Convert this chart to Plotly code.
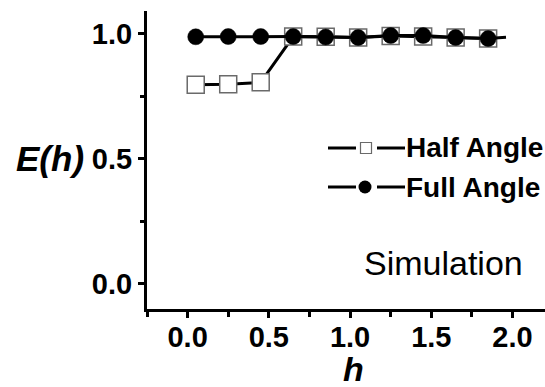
import plotly.graph_objects as go

# ---- data ----
h_vals = [0.05, 0.25, 0.45, 0.65, 0.85, 1.05, 1.25, 1.45, 1.65, 1.85]
half_angle = [0.795, 0.797, 0.805, 0.988, 0.987, 0.984, 0.990, 0.988, 0.984, 0.980]
full_angle = [0.987, 0.988, 0.988, 0.988, 0.986, 0.984, 0.992, 0.992, 0.984, 0.980]
full_line_end_h = 1.96
full_line_end_val = 0.985

x_ticks = [0.0, 0.5, 1.0, 1.5, 2.0]
x_ticklabels = ["0.0", "0.5", "1.0", "1.5", "2.0"]
y_ticks = [0.0, 0.5, 1.0]
y_ticklabels = ["0.0", "0.5", "1.0"]

FONT = "Liberation Sans, Arial, sans-serif"

fig = go.Figure()

fig.add_trace(go.Scatter(
    x=h_vals, y=half_angle, mode="lines+markers", name="Half Angle",
    line=dict(color="black", width=3),
    marker=dict(symbol="square", size=17, color="white", opacity=1,
                line=dict(color="#6a6a6a", width=1.5)),
    showlegend=False,
))

fig.add_trace(go.Scatter(
    x=h_vals + [full_line_end_h], y=full_angle + [full_line_end_val],
    mode="lines", line=dict(color="black", width=3),
    showlegend=False, hoverinfo="skip",
))
fig.add_trace(go.Scatter(
    x=h_vals, y=full_angle, mode="markers", name="Full Angle",
    marker=dict(symbol="circle", size=16, color="#000000", opacity=1,
                line=dict(color="#000000", width=0.5)),
    showlegend=False,
))

L, R, T, B, W, H = 147, 0, 11, 78, 545, 387
PW = W - L - R
PH = H - T - B


def px_x(px):
    return (px - L) / PW


def px_y(py):
    return (H - B - py) / PH


shapes = []
annotations = []

# manual legend
legend_rows = [("Half Angle", 148, "square"), ("Full Angle", 187, "circle")]
for label, ypx, sym in legend_rows:
    yy = px_y(ypx)
    for x0, x1 in [(328, 356), (377, 405)]:
        shapes.append(dict(type="line", xref="paper", yref="paper",
                           x0=px_x(x0), x1=px_x(x1), y0=yy, y1=yy,
                           line=dict(color="black", width=3)))
    if sym == "square":
        shapes.append(dict(type="rect", xref="paper", yref="paper",
                           xsizemode="pixel", ysizemode="pixel",
                           xanchor=px_x(366), yanchor=yy,
                           x0=-5.5, x1=5.5, y0=-5.5, y1=5.5,
                           fillcolor="white", line=dict(color="#6a6a6a", width=1.2)))
    else:
        shapes.append(dict(type="circle", xref="paper", yref="paper",
                           xsizemode="pixel", ysizemode="pixel",
                           xanchor=px_x(365), yanchor=yy,
                           x0=-6.5, x1=6.5, y0=-6.5, y1=6.5,
                           fillcolor="black", line=dict(color="black", width=0)))
    annotations.append(dict(text=label, xref="paper", yref="paper",
                            x=px_x(404), y=yy, xanchor="left", yanchor="middle",
                            showarrow=False,
                            font=dict(family=FONT, size=28, color="black", weight="bold")))

annotations.append(dict(text="<i>E(h)</i>", xref="paper", yref="y",
                        x=px_x(50), y=0.5, xanchor="center", yanchor="middle",
                        showarrow=False,
                        font=dict(family=FONT, size=35, color="black", weight="bold")))
annotations.append(dict(text="<i>h</i>", xref="x", yref="paper",
                        x=1.02, y=px_y(369), xanchor="center", yanchor="middle",
                        showarrow=False,
                        font=dict(family=FONT, size=34, color="black", weight="bold")))
annotations.append(dict(text="Simulation", xref="x", yref="y",
                        x=1.575, y=0.085, xanchor="center", yanchor="middle",
                        showarrow=False,
                        font=dict(family=FONT, size=34, color="black")))

fig.update_layout(
    width=W, height=H,
    margin=dict(l=L, r=R, t=T, b=B, autoexpand=False),
    paper_bgcolor="white", plot_bgcolor="white",
    shapes=shapes, annotations=annotations,
    showlegend=False,
)

fig.update_xaxes(
    range=[-0.25, 2.2], showgrid=False, zeroline=False, automargin=False,
    showline=True, linecolor="black", linewidth=3,
    tickmode="array", tickvals=x_ticks, ticktext=x_ticklabels,
    ticks="outside", ticklen=6, tickwidth=2.5, tickcolor="black",
    ticklabelstandoff=-6,
    minor=dict(ticks="outside", ticklen=5, tickwidth=2.5, tickcolor="black",
               tickmode="linear", tick0=-0.25, dtick=0.5, showgrid=False),
    tickfont=dict(family=FONT, size=29, color="black", weight="bold"),
)
fig.update_yaxes(
    range=[-0.1, 1.09], showgrid=False, zeroline=False, automargin=False,
    showline=True, linecolor="black", linewidth=3,
    tickmode="array", tickvals=y_ticks, ticktext=y_ticklabels,
    ticks="outside", ticklen=6, tickwidth=2.5, tickcolor="black",
    minor=dict(ticks="outside", ticklen=4, tickwidth=2.5, tickcolor="black",
               tickmode="linear", tick0=0.25, dtick=0.5, showgrid=False),
    tickfont=dict(family=FONT, size=29, color="black", weight="bold"),
)

fig.write_html("out.html",
               config={"displayModeBar": False},
               post_script="document.body.style.margin='0px';document.body.style.padding='0px';")
